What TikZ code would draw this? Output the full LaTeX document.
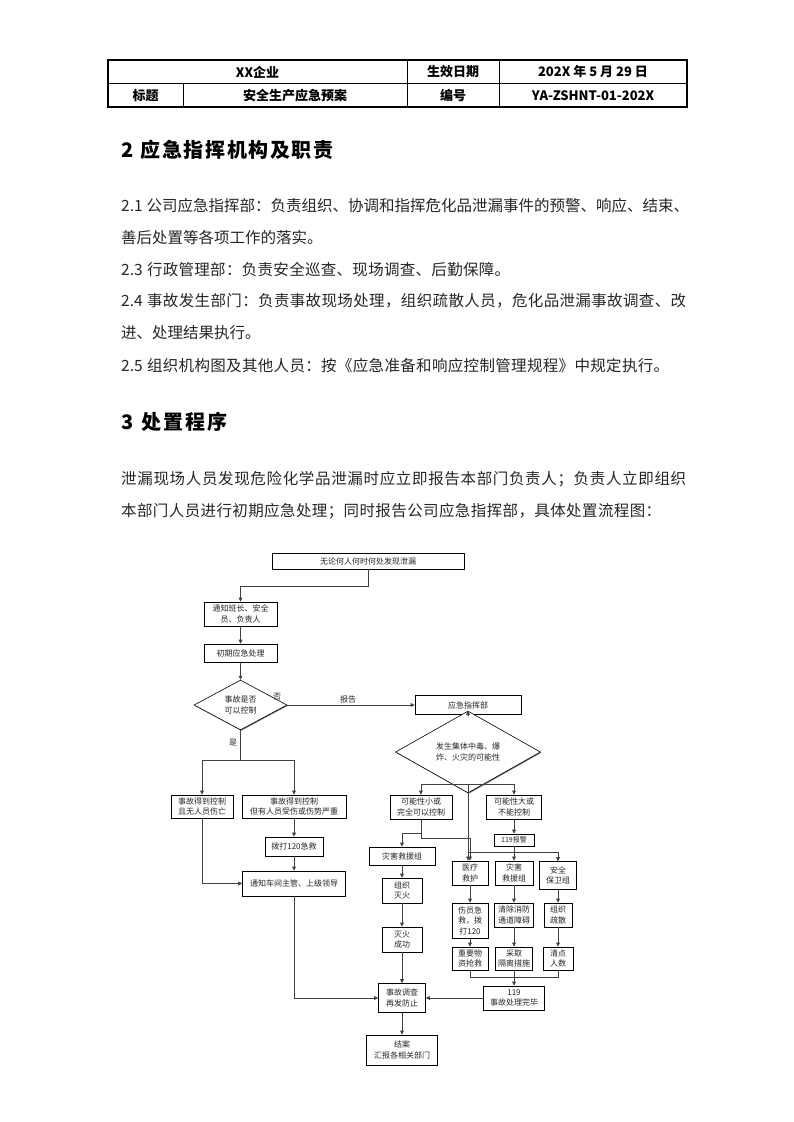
\documentclass[tikz,border=0pt]{standalone}
\usepackage{fontspec}
\setmainfont{Noto Sans CJK SC}
\usetikzlibrary{arrows.meta,shapes.geometric,shadows}

\def\spreadit#1{\spreadB#1\relax}
\def\spreadB#1{#1\spreadA}
\def\spreadA#1{\ifx#1\relax\else\hskip 0pt plus 1fil #1\expandafter\spreadA\fi}

\tikzset{
  body/.style={anchor=west, inner sep=0pt, font=\fontsize{15.5}{18}\selectfont, text=black!85},
  head/.style={anchor=west, inner sep=0pt, font=\fontsize{20}{24}\selectfont\bfseries, text=black},
  cell/.style={inner sep=0pt, font=\fontsize{13}{15}\selectfont\bfseries, text=black},
  shad/.style={drop shadow={shadow xshift=0.8pt, shadow yshift=-0.8pt, fill=black!70, opacity=0.8}},
  box/.style={draw=black, line width=0.6pt, fill=white, shad, inner sep=1pt, align=center,
    font=\fontsize{8}{10.5}\selectfont, text=black!85},
  dia/.style={draw=black, line width=0.6pt, fill=white, shad, shape=diamond, inner sep=0pt, align=center,
    font=\fontsize{8}{10.5}\selectfont, text=black!85},
  lbl/.style={inner sep=0pt, font=\fontsize{8}{10}\selectfont, text=black!85},
  ln/.style={draw=black!75, line width=0.7pt},
  arr/.style={draw=black!75, line width=0.7pt, -{Triangle[length=4pt,width=3.6pt]}}
}

\begin{document}
\begin{tikzpicture}[x=1pt,y=-1pt]
\useasboundingbox (0,0) rectangle (793,1122);
\fill[white] (0,0) rectangle (793,1122);

% header table
\draw[line width=1.4pt] (108,60) rectangle (687,107);
\draw[line width=0.8pt] (108,83.5) -- (687,83.5);
\draw[line width=0.8pt] (183,83.5) -- (183,107);
\draw[line width=0.8pt] (407,60) -- (407,107);
\draw[line width=0.8pt] (499,60) -- (499,107);
\node[cell] (t1) at (257.5,72) {XX企业};
\node[cell] (t2) at (453,72) {生效日期};
\node[cell] (t3) at (593,72) {202X 年 5 月 29 日};
\node[cell] (t4) at (145.5,95.5) {标题};
\node[cell] (t5) at (295,95.5) {安全生产应急预案};
\node[cell] (t6) at (453,95.5) {编号};
\node[cell] (t7) at (593,95.5) {YA-ZSHNT-01-202X};

% section 2
\node[head] (h2) at (121,150) {\makebox[212pt][s]{2\hskip 6pt plus 1fil\spreadit{应急指挥机构及职责}}};
\node[body] (p1) at (121,206) {\makebox[565pt][s]{2.1\hskip 4pt plus 1fil\spreadit{公司应急指挥部：负责组织、协调和指挥危化品泄漏事件的预警、响应、结束、}}};
\node[body] (p2) at (121,238) {善后处置等各项工作的落实。};
\node[body] (p3) at (121,270) {\makebox[389pt][s]{2.3\hskip 4pt plus 1fil\spreadit{行政管理部：负责安全巡查、现场调查、后勤保障。}}};
\node[body] (p4) at (121,301) {\makebox[565pt][s]{2.4\hskip 4pt plus 1fil\spreadit{事故发生部门：负责事故现场处理，组织疏散人员，危化品泄漏事故调查、改}}};
\node[body] (p5) at (121,333) {进、处理结果执行。};
\node[body] (p6) at (121,366) {\makebox[548pt][s]{2.5\hskip 4pt plus 1fil\spreadit{组织机构图及其他人员：按《应急准备和响应控制管理规程》中规定执行。}}};

% section 3
\node[head] (h3) at (121,422) {\makebox[106pt][s]{3\hskip 6pt plus 1fil\spreadit{处置程序}}};
\node[body] (q1) at (121,479) {\makebox[565pt][s]{\spreadit{泄漏现场人员发现危险化学品泄漏时应立即报告本部门负责人；负责人立即组织}}};
\node[body] (q2) at (121,511) {\makebox[540pt][s]{\spreadit{本部门人员进行初期应急处理；同时报告公司应急指挥部，具体处置流程图：}}};

% flowchart nodes
\node[box, minimum width=192pt, minimum height=16pt] (start) at (368,561) {无论何人何时何处发现泄漏};
\node[box, minimum width=73pt, minimum height=24pt] (notify) at (240.5,614) {通知班长、安全\\员、负责人};
\node[box, minimum width=73pt, minimum height=18pt] (init) at (240.5,653) {初期应急处理};
\node[dia, minimum width=93pt, minimum height=43pt] (dec1) at (240.5,705) {事故是否\\可以控制};
\node[box, minimum width=106pt, minimum height=19pt] (cmd) at (468,705) {应急指挥部};
\node[dia, minimum width=145pt, minimum height=43pt] (dec2) at (468,752) {发生集体中毒、爆\\炸、火灾的可能性};
\node[box, minimum width=62pt, minimum height=24pt] (small) at (421,807) {可能性小或\\完全可以控制};
\node[box, minimum width=55pt, minimum height=24pt] (big) at (514,807) {可能性大或\\不能控制};
\node[box, minimum width=40pt, minimum height=12pt, inner sep=0pt, font=\fontsize{7}{8}\selectfont] (alarm) at (514,840) {119报警};
\node[box, minimum width=66pt, minimum height=18pt] (fire) at (402,856) {灾害救援组};
\node[box, minimum width=40pt, minimum height=25pt] (ext) at (402,890.5) {组织\\灭火};
\node[box, minimum width=40pt, minimum height=25pt] (succ) at (402,939.5) {灭火\\成功};
\node[box, minimum width=36pt, minimum height=24pt] (med) at (470,873) {医疗\\救护};
\node[box, minimum width=38pt, minimum height=24pt] (resc) at (514,873) {灾害\\救援组};
\node[box, minimum width=37pt, minimum height=28pt] (sec) at (558,875.5) {安全\\保卫组};
\node[box, minimum width=36pt, minimum height=35pt] (aid) at (470,920.5) {伤员急\\救，拨\\打120};
\node[box, minimum width=39pt, minimum height=24pt] (clear) at (514,915) {清除消防\\通道障碍};
\node[box, minimum width=28pt, minimum height=24pt] (evac) at (558,915) {组织\\疏散};
\node[box, minimum width=36pt, minimum height=23pt] (goods) at (470,958.5) {重要物\\资抢救};
\node[box, minimum width=37pt, minimum height=23pt] (iso) at (514,958.5) {采取\\隔离措施};
\node[box, minimum width=30pt, minimum height=23pt] (cnt) at (558,958.5) {清点\\人数};
\node[box, minimum width=61pt, minimum height=24pt] (done) at (514,998) {119\\事故处理完毕};
\node[box, minimum width=47pt, minimum height=29pt] (inv) at (402,998) {事故调查\\再发防止};
\node[box, minimum width=71pt, minimum height=30pt] (close) at (402,1050) {结案\\汇报各相关部门};
\node[box, minimum width=62pt, minimum height=23pt] (ok) at (202,806.5) {事故得到控制\\且无人员伤亡};
\node[box, minimum width=104pt, minimum height=23pt] (hurt) at (294,806.5) {事故得到控制\\但有人员受伤或伤势严重};
\node[box, minimum width=58pt, minimum height=19pt] (call) at (294,846.5) {拨打120急救};
\node[box, minimum width=103pt, minimum height=25pt] (boss) at (294,883.5) {通知车间主管、上级领导};

% labels
\node[lbl] (no) at (277,697) {否};
\node[lbl] (rep) at (348,699) {报告};
\node[lbl] (yes) at (233,743) {是};

% connectors
\coordinate (j0) at (368,586);
\draw[arr] (start.south) -- (j0) -| (notify.north);
\draw[arr] (notify) -- (init);
\draw[arr] (init) -- (dec1);
\draw[arr] (dec1.east) -- (cmd.west);
\draw[arr] (cmd) -- (dec2);
\coordinate (j1) at (468,784);
\draw[arr] (dec2.south) -- (j1) -| (small.north);
\draw[arr] (j1) -| (big.north);
\draw[arr] (dec2.south) -- (dec2.south |- med.north);
\coordinate (j2) at (421,833);
\coordinate (j3) at (421,838);
\draw[arr] (small.south) -- (j2) -| (fire.north);
\draw[arr] (j2) -- (j3) -| (med.north);
\draw[arr] (big) -- (alarm);
\coordinate (j4) at (514,852);
\draw[ln] (alarm.south) -- (j4) -- (j4 -| dec2.south);
\draw[arr] (j4) -- (resc.north);
\draw[arr] (j4) -| (sec.north);
\draw[arr] (fire) -- (ext);
\draw[arr] (ext) -- (succ);
\draw[arr] (succ) -- (inv);
\draw[arr] (med) -- (aid);
\draw[arr] (aid) -- (goods);
\draw[arr] (resc) -- (clear);
\draw[arr] (clear) -- (iso);
\draw[arr] (sec) -- (evac);
\draw[arr] (evac) -- (cnt);
\coordinate (j5) at (514,977);
\draw[ln] (goods.south) |- (j5);
\draw[ln] (cnt.south) |- (j5);
\draw[arr] (iso) -- (done);
\draw[arr] (done) -- (inv);
\draw[arr] (inv) -- (close);
\coordinate (j6) at (240.5,760);
\draw[arr] (dec1.south) -- (j6) -| (ok.north);
\draw[arr] (j6) -| (hurt.north);
\draw[arr] (hurt) -- (call);
\draw[arr] (call) -- (boss);
\draw[arr] (ok.south) |- (boss.west);
\draw[arr] (boss.south) |- (inv.west);
\end{tikzpicture}
\end{document}
